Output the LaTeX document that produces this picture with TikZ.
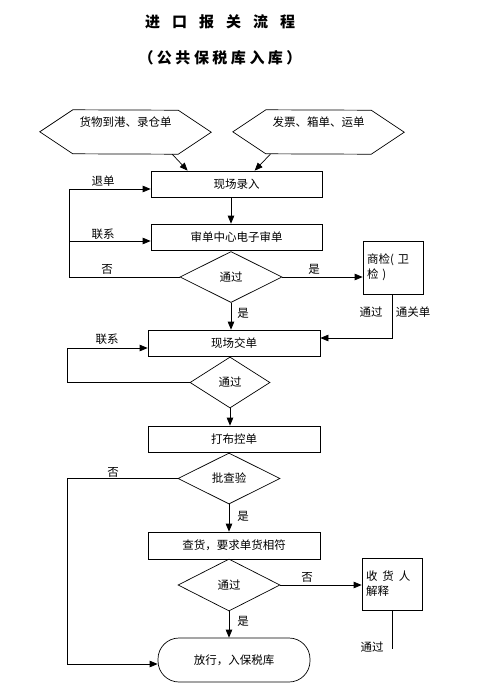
\documentclass[tikz,border=0pt]{standalone}
\usepackage{fontspec}
\setmainfont{Noto Sans CJK SC}
\usetikzlibrary{positioning,arrows.meta,shapes.geometric}

\begin{document}
\begin{tikzpicture}[x=1pt,y=-1pt,
                    every node/.append style = {font=\fontsize{11.5}{15}\selectfont},
                    line/.style = {line width=0.7pt},
                    arr/.style = {line, -{Triangle[length=8pt,width=6.5pt]}},
                    stepbox/.style = {draw, line width=0.7pt, minimum width=172pt, minimum height=26pt, inner sep=0pt},
                    sidebox/.style = {draw, line width=0.7pt, minimum width=60pt, minimum height=53pt, text width=52pt, align=left, inner sep=0pt},
                    check/.style = {draw, line width=0.7pt, diamond, minimum width=102pt, minimum height=51pt, inner sep=0pt},
                    hexbox/.style = {minimum width=105pt, minimum height=44pt, inner sep=0pt, text depth=20pt},
                    endbox/.style = {draw, line width=0.7pt, rounded corners=21pt, minimum width=152pt, minimum height=44pt},
                    tag/.style = {inner sep=0pt}]
\useasboundingbox (0,0) rectangle (495,691);
% titles
\node (title) at (220,22) {\fontsize{15}{18}\selectfont\bfseries 进\hspace{12pt}口\hspace{12pt}报\hspace{12pt}关\hspace{12pt}流\hspace{12pt}程};
\node (subtitle) at (220,58) {\fontsize{15}{18}\selectfont\bfseries （\hspace{3.5pt}公\hspace{3.5pt}共\hspace{3.5pt}保\hspace{3.5pt}税\hspace{3.5pt}库\hspace{3.5pt}入\hspace{3.5pt}库\hspace{3.5pt}）};
% documents
\node[hexbox] (goodsin) at (125.5,132) {货物到港、录仓单};
\node[hexbox] (papers) at (318.5,132) {发票、箱单、运单};
\draw[line] (goodsin.north west) -- ++(-33,22) -- ++(33,22) -- (goodsin.south east) -- ++(33,-22) -- ++(-33,-22) -- cycle;
\draw[line] (papers.north west) -- ++(-33,22) -- ++(33,22) -- (papers.south east) -- ++(33,-22) -- ++(-33,-22) -- cycle;
% steps
\node[stepbox, minimum width=171pt] (entry) at (236.5,184) {现场录入};
\node[stepbox, minimum width=171pt] (audit) at (236.5,237) {审单中心电子审单};
\node[check] (pass1) at (231,277) {通过};
\node[sidebox] (insp) at (393,267.5) {商检( 卫\\检 )};
\node[stepbox] (submit) at (234,343) {现场交单};
\node[check, minimum width=80pt] (pass2) at (230,382.5) {通过};
\node[stepbox] (ctrl) at (234,439) {打布控单};
\node[check] (inspect) at (229,478.5) {批查验};
\node[stepbox, minimum height=27pt] (goods) at (234,545.5) {查货，要求单货相符};
\node[check, minimum height=52pt] (pass3) at (229,585) {通过};
\node[sidebox, minimum height=52pt] (explain) at (392,584) {收\hspace{5pt}货\hspace{5pt}人\\解释};
\node[endbox] (release) at (234,660) {放行，入保税库};
% connectors
\draw[arr] ([xshift=-6pt]goodsin.south east) -- ([xshift=37pt]entry.north west);
\draw[arr] ([xshift=4.5pt]papers.south west) -- ([xshift=104pt]entry.north west);
\draw[arr] (entry.south -| pass1) -- (audit.north -| pass1);
\coordinate (backA) at (69,277);
\coordinate (auditin) at ([yshift=-4pt]audit.west);
\draw[arr] (pass1.west) -- (backA) |- ([yshift=-5pt]entry.west);
\draw[arr] (backA |- auditin) -- (auditin);
\draw[arr] (pass1.east) -- (insp.west |- pass1.east);
\draw[arr] (pass1.south) -- (submit.north -| pass1);
\coordinate (instop) at (392,338);
\draw[arr] (insp.south -| instop) -- (instop) -- (instop -| submit.east);
\coordinate (backB) at (67,382.5);
\draw[arr] (pass2.west) -- (backB) |- ([yshift=-5pt]submit.west);
\draw[arr] (pass2.south) -- (ctrl.north -| pass2);
\coordinate (backC) at (67,478.5);
\draw[arr] (inspect.west) -- (backC) |- ([yshift=-4pt]release.west);
\draw[arr] (inspect.south) -- (goods.north -| inspect);
\draw[arr] (pass3.east) -- (explain.west |- pass3.east);
\coordinate (explainend) at (392,649);
\draw[line] (explain.south) -- (explainend);
\draw[arr] (pass3.south) -- (release.north -| pass3);
% labels
\node[tag] (lbackA) at (103,181) {退单};
\node[tag] (llinkA) at (103,234) {联系};
\node[tag] (lnoA) at (107,269) {否};
\node[tag] (lyesA) at (314,269) {是};
\node[tag] (lyesB) at (243,313) {是};
\node[tag] (lpassA) at (371,312) {通过};
\node[tag] (lcust) at (413,312) {通关单};
\node[tag] (llinkB) at (107,339) {联系};
\node[tag] (lnoB) at (113,472) {否};
\node[tag] (lyesC) at (243,516) {是};
\node[tag] (lnoC) at (307,577) {否};
\node[tag] (lyesD) at (243,621) {是};
\node[tag] (lpassB) at (372,647) {通过};
\end{tikzpicture}
\end{document}
